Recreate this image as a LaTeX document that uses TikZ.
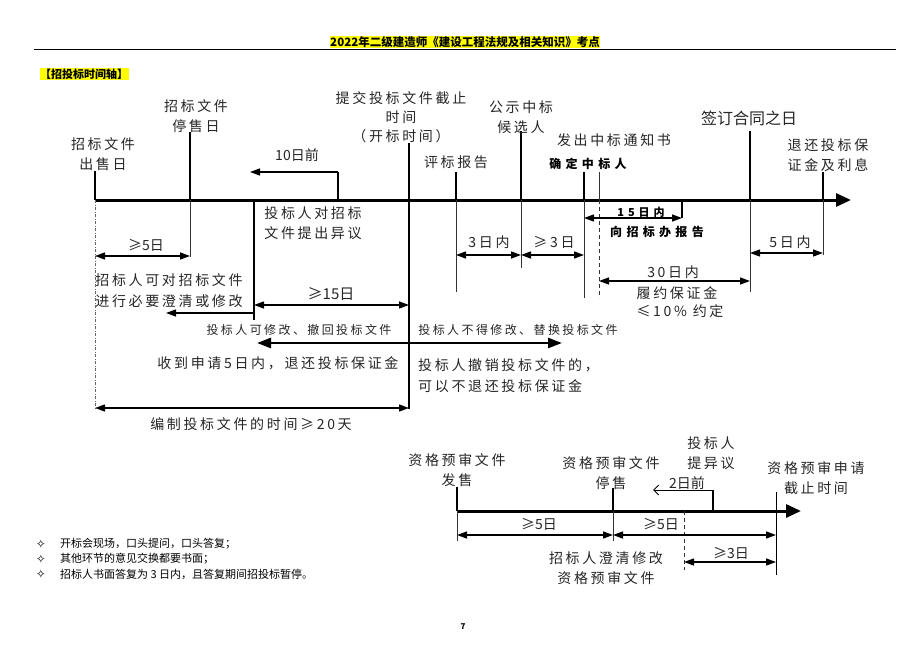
\documentclass[tikz,border=0pt]{standalone}
\usepackage{fontspec}
\usetikzlibrary{arrows.meta}
\newfontfamily\cjk[LetterSpace=19]{Noto Sans CJK SC}
\newfontfamily\cjks[LetterSpace=20]{Noto Sans CJK SC}
\newfontfamily\cjkw[LetterSpace=36]{Noto Sans CJK SC}
\newfontfamily\cjkp{Noto Sans CJK SC}
\newfontfamily\djv{DejaVu Sans}
\definecolor{hl}{RGB}{255,255,0}
\tikzset{
  lab/.style={font=\cjk\fontsize{14}{20}\selectfont, text=black!85, align=center, inner sep=0pt},
  slab/.style={font=\cjks\fontsize{12}{15}\selectfont, text=black!85, inner sep=0pt},
  blab/.style={font=\cjkw\bfseries\fontsize{12}{15}\selectfont, text=black, inner sep=0pt},
  biglab/.style={font=\cjkp\fontsize{16}{19}\selectfont, text=black!85, inner sep=0pt},
  note/.style={font=\cjkp\fontsize{11}{13}\selectfont, text=black, inner sep=0pt, anchor=west},
  bul/.style={font=\djv\fontsize{12}{14}\selectfont, text=black, inner sep=0pt},
  mainaxis/.style={line width=3pt, -{Triangle[length=15pt,width=13pt]}},
  tickline/.style={line width=2.6pt},
  guide/.style={line width=1pt, black!80},
  dim/.style={line width=1.3pt, {Triangle[length=10pt,width=7pt]}-{Triangle[length=10pt,width=7pt]}},
  larrow/.style={line width=1.3pt, -{Triangle[length=10pt,width=7pt]}},
  bigdim/.style={line width=2.6pt, {Triangle[length=14pt,width=10pt]}-{Triangle[length=14pt,width=10pt]}},
}
\begin{document}
\begin{tikzpicture}[x=1pt,y=-1pt]
\useasboundingbox (0,0) rectangle (920,655);
\fill[white] (0,0) rectangle (920,655);

% header
\node[fill=hl, inner sep=0.5pt, font=\cjkp\bfseries\fontsize{11.5}{13}\selectfont] (hdr) at (465,42) {2022年二级建造师《建设工程法规及相关知识》考点};
\coordinate (hl1) at (34,50);
\coordinate (hl2) at (896,50);
\draw[line width=1pt] (hl1) -- (hl2);
\node[fill=hl, inner sep=0.5pt, font=\cjkp\bfseries\fontsize{11}{13}\selectfont] (sec) at (84,74) {【招投标时间轴】};

% ---------------- main axis ----------------
\coordinate (a) at (95,200);
\coordinate (b) at (190,200);
\coordinate (c) at (338,200);
\coordinate (m) at (254,200);
\coordinate (d) at (409,200);
\coordinate (e) at (456,200);
\coordinate (f) at (521,200);
\coordinate (g) at (584,200);
\coordinate (h) at (599,200);
\coordinate (i) at (682,200);
\coordinate (j) at (750,200);
\coordinate (k) at (823,200);
\coordinate (aend) at (851,200);

\draw[mainaxis] (a) -- (aend);

% ticks above
\draw[tickline] (a) -- ++(0,-29);
\draw[tickline] (b) -- ++(0,-68);
\draw[tickline] (c) -- ++(0,-28) coordinate (ctop);
\draw[tickline] (d) -- ++(0,-57);
\draw[tickline] (e) -- ++(0,-28);
\draw[tickline] (f) -- ++(0,-69);
\draw[tickline] (g) -- ++(0,-28);
\draw[guide] (h) -- ++(0,-28);
\draw[tickline] (j) -- ++(0,-69);
\draw[tickline] (k) -- ++(0,-28);
\draw[tickline] (i) -- ++(0,18) coordinate (ibot);

% 10 days before
\coordinate (c10) at (250,172);
\draw[larrow] (ctop) -- (c10);

% guides below
\draw[guide, black!60, dash pattern=on 3pt off 1.5pt on 1pt off 1.5pt] (a) -- ++(0,208);
\draw[guide] (b) -- ++(0,57);
\draw[line width=1.2pt] (m) -- ++(0,120);
\draw[line width=1.6pt] (d) -- ++(0,209);
\draw[guide] (e) -- ++(0,92);
\draw[guide] (f) -- ++(0,68);
\draw[guide] (g) -- ++(0,98);
\draw[guide, dashed, dash pattern=on 4pt off 3pt] (h) -- ++(0,98);
\draw[guide] (j) -- ++(0,92);
\draw[guide] (k) -- ++(0,55);

% dimension arrows
\coordinate (a256) at (95,256);   \coordinate (b256) at (190,256);
\draw[dim] (a256) -- (b256);
\coordinate (m305) at (254,305);  \coordinate (d305) at (409,305);
\draw[dim] (m305) -- (d305);
\coordinate (m313) at (254,313);  \coordinate (l313) at (166,313);
\draw[larrow] (m313) -- (l313);
\coordinate (l343) at (257,343);  \coordinate (r343) at (562,343);
\draw[bigdim] (l343) -- (r343);
\coordinate (a408) at (95,408);   \coordinate (d408) at (409,408);
\draw[dim] (a408) -- (d408);
\coordinate (e255) at (456,255);  \coordinate (f255) at (521,255);  \coordinate (g255) at (584,255);
\draw[dim] (e255) -- (f255);
\draw[dim] (f255) -- (g255);
\coordinate (g218) at (584,218);
\draw[dim] (g218) -- (ibot);
\coordinate (h281) at (599,281);  \coordinate (j281) at (750,281);
\draw[dim] (h281) -- (j281);
\coordinate (j253) at (750,253);  \coordinate (k253) at (823,253);
\draw[dim] (j253) -- (k253);

% labels (top)
\node[lab] (t1) at (103,154) {招标文件\\出售日};
\node[lab] (t2) at (196,116) {招标文件\\停售日};
\node[lab, font=\cjkp\fontsize{14}{17}\selectfont] (t3) at (297,155) {10日前};
\node[lab, font=\cjk\fontsize{14}{19}\selectfont] (t4) at (401,117) {提交投标文件截止\\时间\\（开标时间）};
\node[lab] (t5) at (456,162) {评标报告};
\node[lab] (t6) at (521,117) {公示中标\\候选人};
\node[lab] (t7) at (614,140) {发出中标通知书};
\node[blab] (t8) at (588,164) {确定中标人};
\node[biglab] (t9) at (749,118) {签订合同之日};
\node[lab] (t10) at (828,155) {退还投标保\\证金及利息};

% labels (below)
\node[blab, font=\cjkw\bfseries\fontsize{11}{13}\selectfont] (u1) at (641,212) {15日内};
\node[blab] (u2) at (657,232) {向招标办报告};
\node[lab, font=\cjkp\fontsize{14}{17}\selectfont] (u3) at (146,245) {≥5日};
\node[lab, align=left] (u4) at (313,223) {投标人对招标\\文件提出异议};
\node[lab, font=\cjk\fontsize{14}{21}\selectfont] (u5) at (169,291) {招标人可对招标文件\\进行必要澄清或修改};
\node[lab, font=\cjkp\fontsize{15}{17}\selectfont] (u6) at (331,294) {≥15日};
\node[slab] (u7) at (299,330) {投标人可修改、撤回投标文件};
\node[slab] (u8) at (518,330) {投标人不得修改、替换投标文件};
\node[lab] (u9) at (278,363) {收到申请5日内，退还投标保证金};
\node[lab, align=left, font=\cjk\fontsize{14}{21}\selectfont, anchor=west] (u10) at (418,376) {投标人撤销投标文件的，\\可以不退还投标保证金};
\node[lab] (u11) at (251,424) {编制投标文件的时间≥20天};
\node[lab] (u12) at (489,242) {3日内};
\node[lab] (u13) at (554,242) {≥3日};
\node[lab] (u14) at (790,242) {5日内};
\node[lab] (u15) at (673,272) {30日内};
\node[lab] (u16) at (677,293) {履约保证金};
\node[lab] (u17) at (680,311) {≤10\% 约定};

% ---------------- second axis ----------------
\coordinate (p1) at (457,511);
\coordinate (p2) at (613,511);
\coordinate (p3) at (713,511);
\coordinate (p5) at (684,511);
\coordinate (p4) at (776,511);
\coordinate (pend) at (801,511);
\draw[mainaxis] (p1) -- (pend);
\draw[tickline] (p1) -- ++(0,-24);
\draw[tickline] (p2) -- ++(0,-23);
\draw[tickline] (p3) -- ++(0,-21) coordinate (p3top);
\coordinate (p3arr) at (653,490);
\draw[line width=1pt, -{Straight Barb[length=5pt,width=10pt]}] (p3top) -- (p3arr);
\coordinate (p4top) at (776,492);
\coordinate (p4bot) at (776,575);
\draw[line width=1pt] (p4top) -- (p4bot);
\draw[guide] (p1) -- ++(0,30);
\draw[guide] (p2) -- ++(0,30);
\draw[guide, dashed, dash pattern=on 4pt off 3pt] (p5) -- ++(0,59);

\coordinate (q1) at (457,535); \coordinate (q2) at (613,535); \coordinate (q4) at (776,535);
\draw[dim] (q1) -- (q2);
\draw[dim] (q2) -- (q4);
\coordinate (r5) at (684,562); \coordinate (r4) at (776,562);
\draw[dim] (r5) -- (r4);

\node[lab] (v1) at (457,470) {资格预审文件\\发售};
\node[lab] (v2) at (611,473) {资格预审文件\\停售};
\node[lab] (v3) at (711,453) {投标人\\提异议};
\node[lab, font=\cjkp\fontsize{14}{17}\selectfont] (v4) at (687,483) {2日前};
\node[lab] (v5) at (816,478) {资格预审申请\\截止时间};
\node[lab, font=\cjkp\fontsize{14}{17}\selectfont] (v6) at (539,524) {≥5日};
\node[lab, font=\cjkp\fontsize{14}{17}\selectfont] (v7) at (661,524) {≥5日};
\node[lab, font=\cjkp\fontsize{14}{17}\selectfont] (v8) at (731,553) {≥3日};
\node[lab] (v9) at (606,568) {招标人澄清修改\\资格预审文件};

% notes
\node[bul] (b1) at (41,544) {✧};
\node[bul] (b2) at (41,559) {✧};
\node[bul] (b3) at (41,574) {✧};
\node[note] (n1) at (60,544) {开标会现场，口头提问，口头答复；};
\node[note] (n2) at (60,559) {其他环节的意见交换都要书面；};
\node[note] (n3) at (60,574) {招标人书面答复为 3 日内，且答复期间招投标暂停。};

\node[font=\cjkp\bfseries\fontsize{8}{10}\selectfont, inner sep=0pt] (pg) at (463,627) {7};
\end{tikzpicture}
\end{document}
